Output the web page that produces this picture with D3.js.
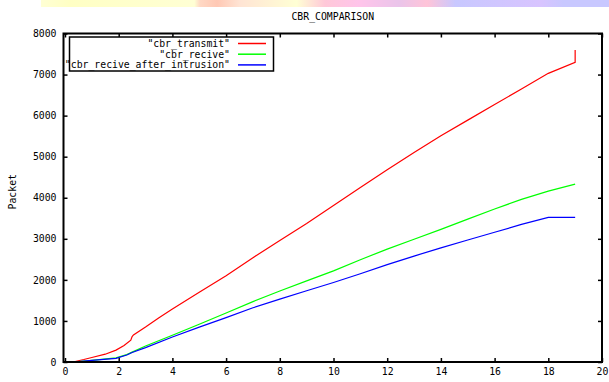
<!DOCTYPE html>
<html><head><meta charset="utf-8">
<script src="https://cdn.jsdelivr.net/npm/d3@7"></script>
<style>
html,body{margin:0;padding:0;background:#fff;}
svg{display:block;}
text{font-family:"DejaVu Sans Mono",monospace;fill:#000;}
</style></head>
<body>
<script>
const title = "CBR_COMPARISON";
const yLabel = "Packet";
const xTicks = [0,2,4,6,8,10,12,14,16,18,20];
const yTicks = [0,1000,2000,3000,4000,5000,6000,7000,8000];
const seriesNames = ['"cbr_transmit"', '"cbr_recive"', '"cbr_recive_after_intrusion"'];
const seriesColors = ["#ff0000", "#00ff00", "#0000ff"];

const transmitX = [0.3,0.7,1.0,1.5,1.9,2.2,2.45,2.5,2.55,3,3.5,4,5,6,7,8,9,10,11,12,13,14,15,16,17,18,19,19];
const transmitY = [0,60,110,190,290,400,530,620,660,850,1080,1290,1700,2100,2540,2960,3370,3810,4250,4680,5100,5510,5890,6270,6650,7030,7300,7600];

const reciveX = [0.3,1,1.9,2.3,2.5,3,4,5,6,7,8,9,10,11,12,13,14,15,16,17,18,19];
const reciveY = [0,40,100,180,240,390,650,920,1195,1470,1730,1975,2220,2490,2750,2990,3230,3480,3725,3960,4160,4330];

const intrX = [0.3,1,1.9,2.3,2.5,3,4,5,6,7,8,9,10,11,12,13,14,15,16,17,18,19];
const intrY = [0,40,90,170,230,350,610,850,1080,1320,1530,1735,1935,2150,2370,2580,2780,2970,3160,3350,3520,3520];

const W = 609, H = 382;
const M = {left:63.5, right:602, top:33.5, bottom:362};

const svg = d3.select("body").append("svg").attr("width", W).attr("height", H);

// top decorative banner from the original screenshot
const defs = svg.append("defs");
const grad = defs.append("linearGradient").attr("id","banner").attr("x1","0").attr("x2","1").attr("y1","0").attr("y2","0");
[[0,"#ffffd4"],[0.05,"#ffffc4"],[0.27,"#ffffd4"],[0.28,"#ffd8c4"],[0.31,"#ffc8b4"],[0.35,"#ffe4d4"],[0.45,"#ffffd4"],[0.5,"#ffc8d8"],[0.56,"#ffc4ea"],[0.63,"#eac4ea"],[0.68,"#ffc4d8"],[0.73,"#c8c8ff"],[0.88,"#d8c4ff"],[0.92,"#c8c8ff"],[1,"#c8c8ff"]]
  .forEach(([o,c]) => grad.append("stop").attr("offset",o).attr("stop-color",c));
svg.append("rect").attr("x",41).attr("y",0).attr("width",W-41).attr("height",7).attr("fill","url(#banner)");

const x = d3.scaleLinear().domain([0,20]).range([M.left+1.5, M.right]);
const y = d3.scaleLinear().domain([0,8000]).range([M.bottom, M.top]);

// title
svg.append("text").attr("x",(M.left+M.right)/2).attr("y",20).attr("text-anchor","middle")
  .style("font-size","9.8px").text(title);

// y label
svg.append("text").attr("transform",`translate(16,${(M.top+M.bottom)/2 - 6}) rotate(-90)`)
  .attr("text-anchor","middle").style("font-size","9.8px").text(yLabel);

// axes via d3
const tickLen = 4;
const gx = svg.append("g").attr("transform",`translate(0,${M.bottom})`)
  .call(d3.axisBottom(x).tickValues(xTicks).tickFormat(d3.format("d")).tickSize(-tickLen).tickPadding(8));
const gxt = svg.append("g").attr("transform",`translate(0,${M.top})`)
  .call(d3.axisTop(x).tickValues(xTicks).tickFormat("").tickSize(-tickLen));
const gy = svg.append("g").attr("transform",`translate(${M.left},0)`)
  .call(d3.axisLeft(y).tickValues(yTicks).tickFormat(d3.format("d")).tickSize(-tickLen).tickPadding(7));
const gyr = svg.append("g").attr("transform",`translate(${M.right},0)`)
  .call(d3.axisRight(y).tickValues(yTicks).tickFormat("").tickSize(-tickLen));
[gx,gxt,gy,gyr].forEach(g => {
  g.select(".domain").remove();
  g.selectAll(".tick line").attr("stroke","#000").attr("stroke-width",1.5);
  g.selectAll(".tick text").style("font-family","'DejaVu Sans Mono',monospace").style("font-size","9.8px").attr("fill","#000");
});
gx.selectAll(".tick text").attr("dy","0.5em");

// data lines
const data = [
  d3.zip(transmitX, transmitY),
  d3.zip(reciveX, reciveY),
  d3.zip(intrX, intrY)
];
const line = d3.line().x(d => x(d[0])).y(d => y(d[1]));
data.forEach((d,i) => {
  svg.append("path").datum(d).attr("d", line).attr("fill","none")
    .attr("stroke", seriesColors[i]).attr("stroke-width",1.2);
});

// frame
svg.append("rect").attr("x",M.left).attr("y",M.top).attr("width",M.right-M.left).attr("height",M.bottom-M.top)
  .attr("fill","none").attr("stroke","#000").attr("stroke-width",2);

// legend
const lg = svg.append("g");
lg.append("rect").attr("x",69.5).attr("y",37).attr("width",204).attr("height",34)
  .attr("fill","#fff").attr("stroke","#000").attr("stroke-width",1.5);
seriesNames.forEach((n,i) => {
  const yy = 43.5 + i*10.7;
  lg.append("text").attr("x",230).attr("y",Math.round(yy + 3.5)).attr("text-anchor","end")
    .style("font-size","9.8px").text(n);
  lg.append("line").attr("x1",238).attr("x2",266).attr("y1",yy).attr("y2",yy)
    .attr("stroke",seriesColors[i]).attr("stroke-width",1.5);
});
</script>
</body></html>
